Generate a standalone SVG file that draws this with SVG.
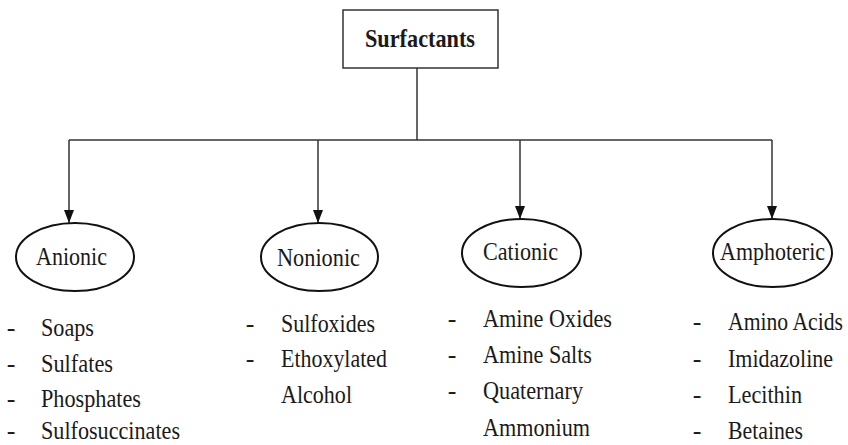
<svg xmlns="http://www.w3.org/2000/svg" width="848" height="445" viewBox="0 0 848 445">
<style>
text{font-family:'Liberation Serif','DejaVu Serif',serif;font-size:26px;fill:#1a1a1a}
.b{font-weight:bold}
.d{text-anchor:middle}
.e{fill:none;stroke:#111;stroke-width:2}
.c{fill:none;stroke:#333;stroke-width:1.5}
</style>
<defs>
<marker id="ah" viewBox="0 0 13 10" refX="13" refY="5" markerWidth="13" markerHeight="10" markerUnits="userSpaceOnUse" orient="auto">
<path d="M0,0 L13,5 L0,10 Z" fill="#111"/>
</marker>
</defs>
<rect width="848" height="445" fill="#fff"/>
<g id="connectors">
<path class="c" d="M417,68 V140"/>
<path class="c" d="M69,140 H772"/>
<path class="c" d="M69,140 V223" marker-end="url(#ah)"/>
<path class="c" d="M318,140 V223" marker-end="url(#ah)"/>
<path class="c" d="M520,140 V219" marker-end="url(#ah)"/>
<path class="c" d="M772,140 V219" marker-end="url(#ah)"/>
</g>
<g font-family="Liberation Serif, DejaVu Serif, serif">
<g id="surfactants">
<rect x="343" y="10" width="155" height="58" fill="#fff" stroke="#333" stroke-width="1.5"/>
<text class="b" x="365" y="47" textLength="110" lengthAdjust="spacingAndGlyphs">Surfactants</text>
</g>
<g id="anionic">
<ellipse class="e" cx="75" cy="257" rx="59" ry="34"/>
<text x="36" y="265" textLength="71" lengthAdjust="spacingAndGlyphs">Anionic</text>
</g>
<g id="nonionic">
<ellipse class="e" cx="319.5" cy="257" rx="58.5" ry="34"/>
<text x="277" y="265.5" textLength="83" lengthAdjust="spacingAndGlyphs">Nonionic</text>
</g>
<g id="cationic">
<ellipse class="e" cx="521.5" cy="253" rx="59.5" ry="34"/>
<text x="483" y="260" textLength="75" lengthAdjust="spacingAndGlyphs">Cationic</text>
</g>
<g id="amphoteric">
<ellipse class="e" cx="772.5" cy="253" rx="59.5" ry="34"/>
<text x="720" y="260" textLength="105" lengthAdjust="spacingAndGlyphs">Amphoteric</text>
</g>
<g id="anionic-list">
<text class="d" x="11" y="336">-</text>
<text x="41" y="336" textLength="53" lengthAdjust="spacingAndGlyphs">Soaps</text>
<text class="d" x="11" y="371.5">-</text>
<text x="41" y="371.5" textLength="72" lengthAdjust="spacingAndGlyphs">Sulfates</text>
<text class="d" x="11" y="407">-</text>
<text x="41" y="407" textLength="100" lengthAdjust="spacingAndGlyphs">Phosphates</text>
<text class="d" x="11" y="439">-</text>
<text x="41" y="439" textLength="139" lengthAdjust="spacingAndGlyphs">Sulfosuccinates</text>
</g>
<g id="nonionic-list">
<text class="d" x="250" y="331.5">-</text>
<text x="281" y="331.5" textLength="94" lengthAdjust="spacingAndGlyphs">Sulfoxides</text>
<text class="d" x="250" y="367">-</text>
<text x="281" y="367" textLength="106" lengthAdjust="spacingAndGlyphs">Ethoxylated</text>
<text x="281" y="403" textLength="71" lengthAdjust="spacingAndGlyphs">Alcohol</text>
</g>
<g id="cationic-list">
<text class="d" x="452" y="327">-</text>
<text x="483" y="327" textLength="129" lengthAdjust="spacingAndGlyphs">Amine Oxides</text>
<text class="d" x="452" y="363">-</text>
<text x="483" y="363" textLength="109" lengthAdjust="spacingAndGlyphs">Amine Salts</text>
<text class="d" x="452" y="398.5">-</text>
<text x="483" y="398.5" textLength="100" lengthAdjust="spacingAndGlyphs">Quaternary</text>
<text x="483" y="435.5" textLength="107" lengthAdjust="spacingAndGlyphs">Ammonium</text>
</g>
<g id="amphoteric-list">
<text class="d" x="697" y="330">-</text>
<text x="728" y="330" textLength="115" lengthAdjust="spacingAndGlyphs">Amino Acids</text>
<text class="d" x="697" y="366.5">-</text>
<text x="728" y="366.5" textLength="105" lengthAdjust="spacingAndGlyphs">Imidazoline</text>
<text class="d" x="697" y="402.5">-</text>
<text x="728" y="402.5" textLength="74" lengthAdjust="spacingAndGlyphs">Lecithin</text>
<text class="d" x="697" y="438.5">-</text>
<text x="728" y="438.5" textLength="75" lengthAdjust="spacingAndGlyphs">Betaines</text>
</g>
</g>
</svg>
